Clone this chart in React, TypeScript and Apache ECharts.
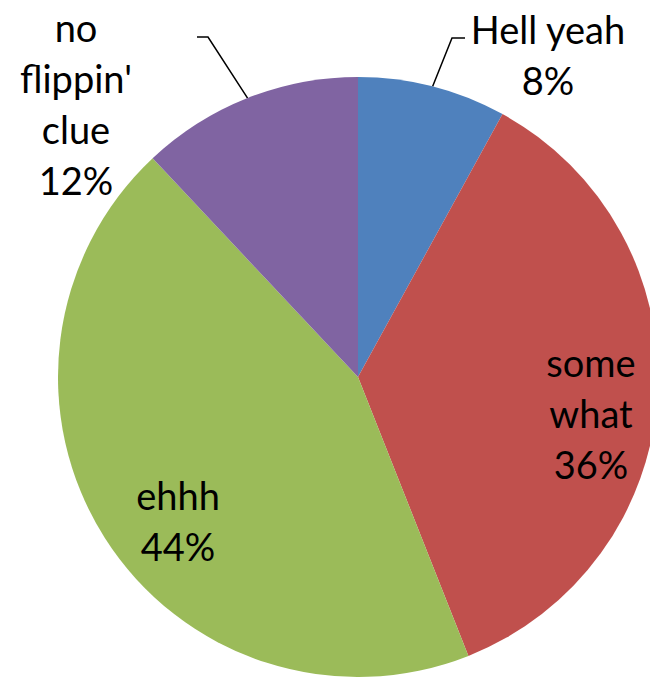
import { useEffect, useRef } from "react";
import * as echarts from "echarts";

// ---- data ----
const categories = ["Hell yeah", "some what", "ehhh", "no flippin' clue"];
const values = [8, 36, 44, 12];
const labelTexts = ["Hell yeah", "some\nwhat", "ehhh", "no\nflippin'\nclue"];

// ---- styles / layout ----
const colors = ["#4F81BD", "#C0504D", "#9BBB59", "#8064A2"];
const labelCenters: number[][] = [
  [548, 54],
  [591, 413],
  [178, 520],
  [76, 103],
];
const outsideLabel = [true, false, false, true];
// leader line: elbow and end offsets relative to label center
const leaderOffsets: Record<number, number[][]> = {
  0: [
    [-96, -16],
    [-83, -16],
  ],
  3: [
    [132, -66],
    [121, -66],
  ],
};
const FONT = "Lato, 'Open Sans', sans-serif";
const FONT_SIZE = 38;
const LINE_H = 51;

export default function App() {
  const ref = useRef<HTMLDivElement>(null);
  useEffect(() => {
    if (!ref.current) return;
    const chart = echarts.init(ref.current, undefined, { renderer: "svg" });
    const cx = 358;
    const cy = 377;
    const R = 300;
    chart.setOption({
      animation: false,
      backgroundColor: "#ffffff",
      series: [
        {
          type: "pie",
          center: [cx, cy],
          radius: [0, R],
          startAngle: 90,
          clockwise: true,
          percentPrecision: 0,
          avoidLabelOverlap: false,
          silent: true,
          data: categories.map((name, i) => ({
            name,
            value: values[i],
            itemStyle: { color: colors[i] },
            label: { position: outsideLabel[i] ? "outside" : "inside" },
            labelLine: { show: outsideLabel[i] },
          })),
          label: {
            show: true,
            color: "#000",
            fontFamily: FONT,
            fontSize: FONT_SIZE,
            lineHeight: LINE_H,
            align: "center",
            formatter: (p: any) => `${labelTexts[p.dataIndex]}\n${p.percent}%`,
          },
          labelLine: {
            show: true,
            length: 20,
            length2: 10,
            lineStyle: { color: "#000", width: 1.5 },
          },
          labelLayout: (params: any) => {
            const i = params.dataIndex;
            const [lx, ly] = labelCenters[i];
            const res: any = { x: lx, y: ly, align: "center", verticalAlign: "middle" };
            if (outsideLabel[i]) {
              let start = params.labelLinePoints && params.labelLinePoints[0];
              if (!start) {
                let acc = 0;
                for (let k = 0; k < i; k++) acc += values[k];
                const total = values.reduce((a, b) => a + b, 0);
                const mid = ((acc + values[i] / 2) / total) * Math.PI * 2;
                const ang = Math.PI / 2 - mid;
                start = [cx + R * Math.cos(ang), cy - R * Math.sin(ang)];
              }
              const off = leaderOffsets[i];
              res.labelLinePoints = [
                start,
                [lx + off[0][0], ly + off[0][1]],
                [lx + off[1][0], ly + off[1][1]],
              ];
            }
            return res;
          },
        },
      ],
    });
    return () => chart.dispose();
  }, []);
  return (
    <div
      ref={ref}
      style={{ position: "fixed", left: 0, top: 0, width: 650, height: 677 }}
    />
  );
}
